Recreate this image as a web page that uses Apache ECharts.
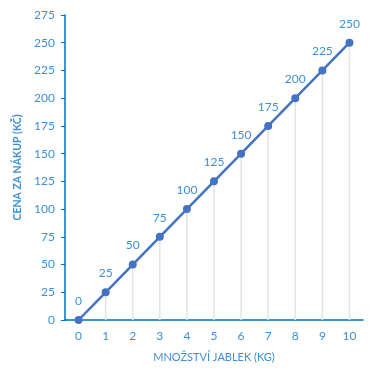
<!DOCTYPE html>
<html>
<head>
<meta charset="utf-8">
<script src="https://cdn.jsdelivr.net/npm/echarts@6/dist/echarts.min.js"></script>
<style>
  html, body { margin: 0; padding: 0; background: #fff; }
  #main { width: 378px; height: 378px; }
</style>
</head>
<body>
<div id="main"></div>
<script>
// data
const weights = ["0", "1", "2", "3", "4", "5", "6", "7", "8", "9", "10"];
const prices = [0, 25, 50, 75, 100, 125, 150, 175, 200, 225, 250];

const axisBlue = "#0070c0";
const textBlue = "#3f8fd8";

let myChart = echarts.init(document.getElementById("main"));

let option = {
  animation: false,
  textStyle: { fontFamily: "Lato" },
  grid: {
    left: 65,
    right: 15,
    top: 15,
    bottom: 58
  },
  xAxis: {
    type: "category",
    boundaryGap: true,
    data: weights,
    name: "MNOŽSTVÍ JABLEK (KG)",
    nameLocation: "middle",
    nameGap: 32,
    nameTextStyle: { color: textBlue, fontSize: 11 },
    axisLine: { lineStyle: { color: axisBlue, width: 1.5 } },
    axisTick: { show: false },
    axisLabel: { color: textBlue, fontSize: 12, margin: 10 },
    splitLine: { show: false }
  },
  yAxis: {
    type: "value",
    min: 0,
    max: 275,
    interval: 25,
    name: "CENA ZA NÁKUP (KČ)",
    nameLocation: "middle",
    nameGap: 40,
    nameTextStyle: { color: textBlue, fontSize: 10.5, fontWeight: "bold" },
    axisLine: { show: true, lineStyle: { color: axisBlue, width: 1.5 } },
    axisTick: { show: true, length: 4, lineStyle: { color: axisBlue } },
    axisLabel: { color: textBlue, fontSize: 12, margin: 10 },
    splitLine: { show: false }
  },
  series: [
    {
      // drop lines
      type: "bar",
      data: prices,
      barWidth: 1.5,
      itemStyle: { color: "#e4e4e4" },
      silent: true,
      z: 1
    },
    {
      type: "line",
      data: prices,
      symbol: "circle",
      symbolSize: 8,
      lineStyle: { color: "#4472c4", width: 2.5 },
      itemStyle: { color: "#4472c4" },
      label: {
        show: true,
        position: "top",
        distance: 9,
        color: textBlue,
        fontSize: 12
      },
      z: 3
    }
  ]
};

myChart.setOption(option);
</script>
</body>
</html>
